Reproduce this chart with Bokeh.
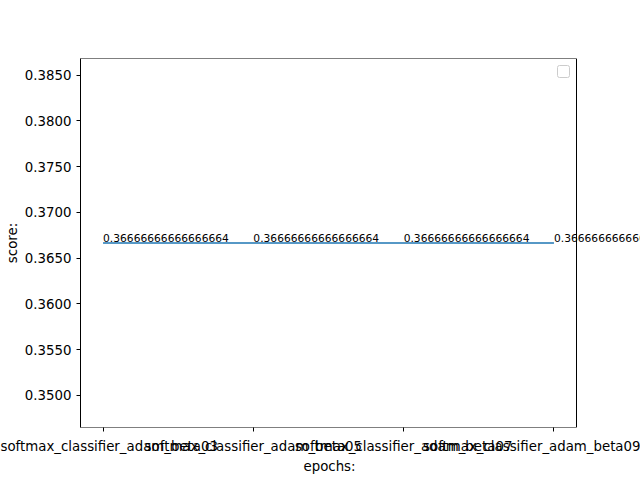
from bokeh.plotting import figure
from bokeh.models import Range1d, FixedTicker, PrintfTickFormatter, Label, BoxAnnotation, Title
from bokeh.embed import file_html
from bokeh.resources import INLINE

categories = ["softmax_classifier_adam_beta03", "softmax_classifier_adam_beta05",
              "softmax_classifier_adam_beta07", "softmax_classifier_adam_beta09"]
scores = [0.36666666666666664, 0.36666666666666664, 0.36666666666666664, 0.36666666666666664]
y_ticks = [0.350, 0.355, 0.360, 0.365, 0.370, 0.375, 0.380, 0.385]

xs = list(range(len(categories)))
FONT = "DejaVu Sans"

# axes box geometry (matplotlib-like): box from x=80 to 576 px; frame extended to 640
# so that the value labels may overflow the box as in the reference
x_lo = -0.15
x_hi = len(categories) - 1 + 0.15
box_px = 496
frame_px = 560
x_frame_hi = x_lo + (x_hi - x_lo) * frame_px / box_px
y_lo, y_hi = 0.34650, 0.38683

p = figure(width=640, height=480, output_backend="svg", toolbar_location=None,
           x_range=Range1d(x_lo, x_frame_hi),
           y_range=Range1d(y_lo, y_hi),
           min_border_left=80, min_border_right=0, min_border_top=58, min_border_bottom=53)
p.background_fill_color = "white"
p.border_fill_color = "white"
p.outline_line_color = None
p.xgrid.visible = False
p.ygrid.visible = False

# axes box (spines)
p.add_layout(BoxAnnotation(left=x_lo, right=x_hi, bottom=y_lo, top=y_hi,
                           fill_alpha=0, line_color="black", line_alpha=1.0,
                           line_width=1, level="overlay"))

line = p.line(xs, scores, line_color="#1f77b4", line_width=1.5)

for x, s in zip(xs, scores):
    p.add_layout(Label(x=x, y=s, text=repr(s), text_font=FONT, text_font_size="10.7px",
                       text_color="black", text_align="left", text_baseline="bottom",
                       y_offset=1))

for ax in (p.xaxis[0], p.yaxis[0]):
    ax.major_tick_in = 0
    ax.major_tick_out = 4
    ax.minor_tick_in = 0
    ax.minor_tick_out = 0
    ax.major_label_text_font = FONT
    ax.major_label_text_font_size = "13.33px"
    ax.major_label_text_color = "black"
    ax.axis_label_text_font = FONT
    ax.axis_label_text_font_size = "13.33px"
    ax.axis_label_text_font_style = "normal"
    ax.axis_label_text_color = "black"

p.xaxis.axis_line_color = None
p.yaxis.axis_line_color = "black"

p.xaxis.ticker = FixedTicker(ticks=xs)
p.xaxis.major_label_overrides = {i: c for i, c in zip(xs, categories)}
p.xaxis.major_label_standoff = 7

# x axis title centred under the axes box (not under the widened frame)
p.add_layout(Title(text="epochs:", align="left", offset=223, text_font=FONT,
                   text_font_size="13.33px", text_font_style="normal",
                   text_color="black", standoff=0), "below")

p.yaxis.ticker = FixedTicker(ticks=y_ticks)
p.yaxis.formatter = PrintfTickFormatter(format="%.4f")
p.yaxis.axis_label = "score:"
p.yaxis.major_label_standoff = 5
p.yaxis.axis_label_standoff = 2

# empty legend frame (matplotlib draws an empty legend box at upper right)
p.add_layout(BoxAnnotation(left=557, right=569, top=65, bottom=77,
                           left_units="canvas", right_units="canvas",
                           top_units="canvas", bottom_units="canvas",
                           fill_color="white", fill_alpha=0.8,
                           line_color="#cccccc", line_alpha=1.0, line_width=1, border_radius=2))

open("out.html", "w").write(file_html(p, INLINE))
